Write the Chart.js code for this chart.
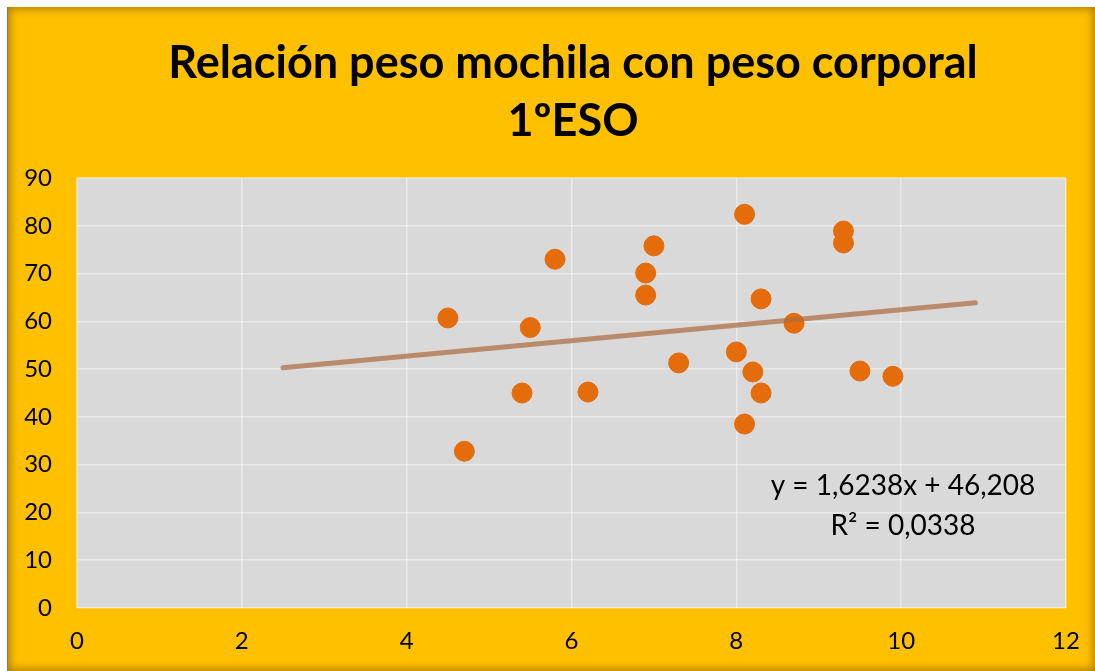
<!DOCTYPE html>
<html>
<head>
<meta charset="utf-8">
<script src="https://cdn.jsdelivr.net/npm/chart.js@4"></script>
<style>
  html, body { margin: 0; padding: 0; background: #fff; overflow: hidden; }
  #frame {
    position: absolute; left: 7px; top: 7px; width: 1087px; height: 664px;
    background: #FFC000;
    border-left: 1px solid #4F81BD;
    box-shadow: inset 0 0 9px 2px rgba(110, 70, 0, 0.55);
  }
  #chart { display: block; }
</style>
</head>
<body>
<div id="frame"><canvas id="chart" width="1087" height="664"></canvas></div>
<script>
const titleLines = ['Relación peso mochila con peso corporal', '1ºESO'];
const xTicks = [0, 2, 4, 6, 8, 10, 12];
const yTicks = [0, 10, 20, 30, 40, 50, 60, 70, 80, 90];

// peso mochila (x) / peso corporal (y)
const mochila = [4.5, 4.7, 5.4, 5.5, 5.8, 6.2, 6.9, 6.9, 7.0, 7.3, 8.0, 8.1, 8.2, 8.3, 8.3, 8.1, 8.7, 9.3, 9.3, 9.5, 9.9];
const corporal = [60.7, 32.8, 45.0, 58.7, 73.0, 45.2, 70.1, 65.5, 75.8, 51.3, 53.6, 82.4, 49.4, 64.7, 45.0, 38.5, 59.6, 78.9, 76.4, 49.6, 48.5];

// linea de tendencia
const trendX = [2.5, 10.9];
const trendY = [50.27, 63.91];
const equation = ['y = 1,6238x + 46,208', 'R² = 0,0338'];

const FONT = 'Lato, "Open Sans", sans-serif';

const plotBg = {
    id: 'plotBg',
    beforeDraw(chart) {
        const { ctx, chartArea: a } = chart;
        ctx.save();
        ctx.fillStyle = '#D9D9D9';
        ctx.fillRect(a.left, a.top, a.right - a.left, a.bottom - a.top);
        ctx.restore();
    }
};

// title in the reference sits a bit right of the canvas centre
const titleShift = {
    id: 'titleShift',
    afterLayout(chart) {
        if (chart.titleBlock) chart.titleBlock.left = 43;
    }
};

const eqLabel = {
    id: 'eqLabel',
    afterDraw(chart) {
        const { ctx, chartArea: a } = chart;
        ctx.save();
        ctx.font = '28px ' + FONT;
        ctx.fillStyle = '#000';
        ctx.textAlign = 'center';
        ctx.textBaseline = 'middle';
        const cx = a.right - 163;
        ctx.fillText(equation[0], cx, a.top + 308);
        ctx.fillText(equation[1], cx, a.top + 348);
        ctx.restore();
    }
};

new Chart(document.getElementById('chart'), {
    type: 'scatter',
    data: {
        datasets: [
            {
                type: 'line',
                label: 'tendencia',
                data: trendX.map((x, i) => ({ x: x, y: trendY[i] })),
                borderColor: 'rgba(171, 106, 60, 0.7)',
                borderWidth: 5,
                borderCapStyle: 'round',
                pointRadius: 0,
                fill: false,
                order: 0
            },
            {
                label: 'peso',
                data: mochila.map((x, i) => ({ x: x, y: corporal[i] })),
                backgroundColor: '#E46C0A',
                borderColor: '#E46C0A',
                pointRadius: 10,
                pointHoverRadius: 10,
                order: 1
            }
        ]
    },
    options: {
        responsive: false,
        animation: false,
        layout: { padding: 0 },
        plugins: {
            legend: { display: false },
            tooltip: { enabled: false },
            title: {
                display: true,
                text: titleLines,
                color: '#000',
                font: { family: FONT, size: 45, weight: 'bold', lineHeight: 1.289 },
                padding: { top: 27, bottom: 28 }
            }
        },
        scales: {
            x: {
                type: 'linear',
                min: 0, max: 12,
                afterBuildTicks: (s) => { s.ticks = xTicks.map(v => ({ value: v })); },
                afterFit: (s) => {
                    s.height = 63;
                    // the tick padding would otherwise widen the right margin
                    s.paddingLeft = 0;
                    s.paddingRight = 0;
                },
                grid: { color: 'rgba(255,255,255,0.45)', lineWidth: 1.5, drawTicks: false },
                border: { display: false },
                ticks: { color: '#000', font: { family: FONT, size: 24 }, padding: 19, maxRotation: 0 }
            },
            y: {
                type: 'linear',
                min: 0, max: 90,
                afterBuildTicks: (s) => { s.ticks = yTicks.map(v => ({ value: v })); },
                afterFit: (s) => { s.width = 69; },
                grid: { color: 'rgba(255,255,255,0.45)', lineWidth: 1.5, drawTicks: false },
                border: { display: false },
                ticks: { color: '#000', font: { family: FONT, size: 24 }, padding: 25 }
            },
            // empty right axis, only keeps the gap between plot and frame
            yRight: {
                position: 'right',
                min: 0, max: 90,
                afterFit: (s) => { s.width = 29; },
                grid: { display: false },
                border: { display: false },
                ticks: { display: false }
            }
        }
    },
    plugins: [plotBg, titleShift, eqLabel]
});
</script>
</body>
</html>
